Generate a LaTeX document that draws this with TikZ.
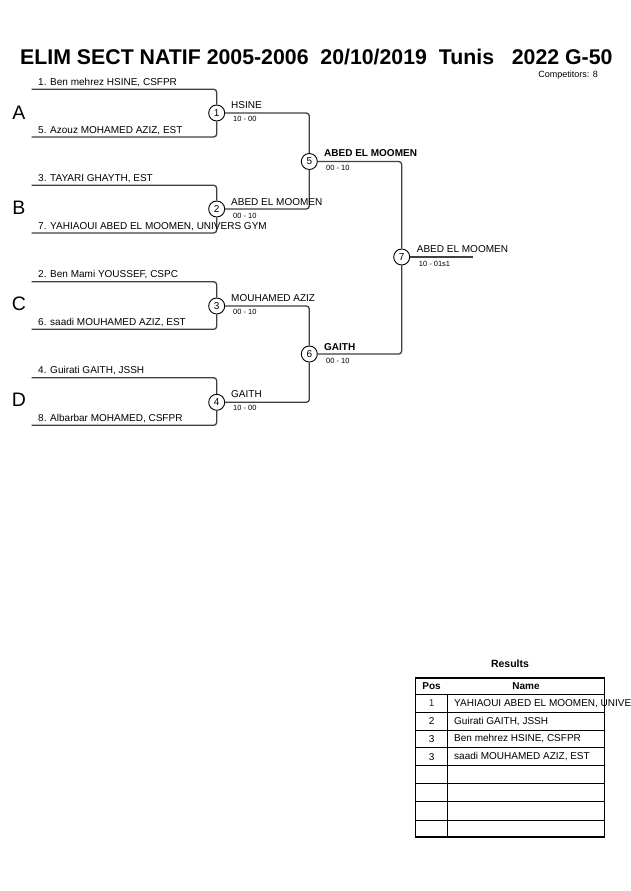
\documentclass[tikz,border=0pt]{standalone}
\usepackage{fontspec}
\setmainfont{Liberation Sans}
\definecolor{linegray}{HTML}{404040}
\definecolor{posone}{HTML}{70005A}
\tikzset{
  bline/.style={draw=linegray, line width=1.3pt, rounded corners=3pt},
  mcirc/.style={circle, draw=black, fill=white, line width=0.9pt, minimum size=16pt, inner sep=0pt, font=\fontsize{10}{12}\selectfont},
  comp/.style={anchor=base west, inner sep=0pt, font=\fontsize{10}{12}\selectfont},
  winlab/.style={anchor=base west, inner sep=0pt, font=\fontsize{10}{12}\selectfont},
  winbold/.style={anchor=base west, inner sep=0pt, font=\fontsize{10}{12}\selectfont\bfseries},
  score/.style={anchor=base west, inner sep=0pt, font=\fontsize{7.5}{9}\selectfont},
  poollab/.style={anchor=center, inner sep=0pt, font=\fontsize{19.5}{22}\selectfont},
  tabtxt/.style={anchor=west, inner sep=0pt, font=\fontsize{10}{12}\selectfont},
  tabpos/.style={anchor=center, inner sep=0pt, font=\fontsize{10}{12}\selectfont},
  tabhead/.style={anchor=center, inner sep=0pt, font=\fontsize{10}{12}\selectfont\bfseries},
  tabline/.style={draw=black, line width=0.8pt},
}
\begin{document}
\begin{tikzpicture}[x=1pt,y=-1pt]
\useasboundingbox[fill=white] (0,0) rectangle (630,891);

% title
\node[anchor=base west, inner sep=0pt, font=\fontsize{21.3}{24}\selectfont\bfseries] (title) at (20,64)
  {ELIM SECT NATIF 2005-2006\ \ 20/10/2019\ \ Tunis\ \ \ 2022 G-50};
\node[anchor=base east, inner sep=0pt, font=\fontsize{9}{10}\selectfont] (ncomp) at (598,77.5) {Competitors: 8};

% pool letters
\node[poollab] (pA) at (19,112.5) {A};
\node[poollab] (pB) at (19,208) {B};
\node[poollab] (pC) at (19,303.7) {C};
\node[poollab] (pD) at (19,399.7) {D};

% entry coordinates
\coordinate (e1) at (31.7,89.3);
\coordinate (e5) at (31.7,137);
\coordinate (e3) at (31.7,185.3);
\coordinate (e7) at (31.7,233);
\coordinate (e2) at (31.7,281.7);
\coordinate (e6) at (31.7,329.3);
\coordinate (e4) at (31.7,377.7);
\coordinate (e8) at (31.7,425.3);
\coordinate (fin) at (473,257);

% match circles
\node[mcirc] (m1) at (216.7,113) {1};
\node[mcirc] (m2) at (216.7,209) {2};
\node[mcirc] (m3) at (216.7,306) {3};
\node[mcirc] (m4) at (216.7,402.3) {4};
\node[mcirc] (m5) at (309.3,161.5) {5};
\node[mcirc] (m6) at (309.3,354) {6};
\node[mcirc] (m7) at (401.7,257) {7};

% connectors
\draw[bline] (e1) -| (m1);
\draw[bline] (e5) -| (m1);
\draw[bline] (e3) -| (m2);
\draw[bline] (e7) -| (m2);
\draw[bline] (e2) -| (m3);
\draw[bline] (e6) -| (m3);
\draw[bline] (e4) -| (m4);
\draw[bline] (e8) -| (m4);
\draw[bline] (m1) -| (m5);
\draw[bline] (m2) -| (m5);
\draw[bline] (m3) -| (m6);
\draw[bline] (m4) -| (m6);
\draw[bline] (m5) -| (m7);
\draw[bline] (m6) -| (m7);
\draw[bline] (m7) -- (fin);

% competitor names
\node[comp] (c1) at (38,85) {1. Ben mehrez HSINE, CSFPR};
\node[comp] (c5) at (38,133.3) {5. Azouz MOHAMED AZIZ, EST};
\node[comp] (c3) at (38,181.3) {3. TAYARI GHAYTH, EST};
\node[comp] (c7) at (38,229.3) {7. YAHIAOUI ABED EL MOOMEN, UNIVERS GYM};
\node[comp] (c2) at (38,277.7) {2. Ben Mami YOUSSEF, CSPC};
\node[comp] (c6) at (38,325.7) {6. saadi MOUHAMED AZIZ, EST};
\node[comp] (c4) at (38,373.3) {4. Guirati GAITH, JSSH};
\node[comp] (c8) at (38,421.7) {8. Albarbar MOHAMED, CSFPR};

% winners and scores
\node[winlab] (w1) at (231,108.7) {HSINE};
\node[score] (s1) at (233,121.7) {10 - 00};
\node[winlab] (w2) at (231,205) {ABED EL MOOMEN};
\node[score] (s2) at (233,218.3) {00 - 10};
\node[winlab] (w3) at (231,301.7) {MOUHAMED AZIZ};
\node[score] (s3) at (233,314.5) {00 - 10};
\node[winlab] (w4) at (231,397.7) {GAITH};
\node[score] (s4) at (233,410.5) {10 - 00};
\node[winbold] (w5) at (324,156.5) {ABED EL MOOMEN};
\node[score] (s5) at (326,170) {00 - 10};
\node[winbold] (w6) at (324,350) {GAITH};
\node[score] (s6) at (326,363) {00 - 10};
\node[winlab] (w7) at (416.7,252.7) {ABED EL MOOMEN};
\node[score] (s7) at (418.7,266.7) {10 - 01s1};

% results table
\node[anchor=base, inner sep=0pt, font=\fontsize{10.5}{12}\selectfont\bfseries] (restitle) at (510,667.5) {Results};
\foreach \yy in {694.7,712.3,730,747.7,765.7,783.3,801.7,820}
  \draw[tabline] (415.5,\yy) -- (604.5,\yy);
\draw[tabline] (447.7,694.7) -- (447.7,836.7);
\draw[draw=black, line width=1.6pt] (415.5,678) rectangle (604.5,836.7);
\node[tabhead] (hpos) at (431.6,686.5) {Pos};
\node[tabhead] (hname) at (526,686.5) {Name};
\node[tabpos, text=posone] (r1p) at (431.6,703.5) {1};
\node[tabtxt] (r1n) at (454,703.5) {YAHIAOUI ABED EL MOOMEN, UNIVERS GYM};
\node[tabpos] (r2p) at (431.6,721.2) {2};
\node[tabtxt] (r2n) at (454,721.2) {Guirati GAITH, JSSH};
\node[tabpos] (r3p) at (431.6,738.9) {3};
\node[tabtxt] (r3n) at (454,738.9) {Ben mehrez HSINE, CSFPR};
\node[tabpos] (r4p) at (431.6,756.7) {3};
\node[tabtxt] (r4n) at (454,756.7) {saadi MOUHAMED AZIZ, EST};
\end{tikzpicture}
\end{document}
